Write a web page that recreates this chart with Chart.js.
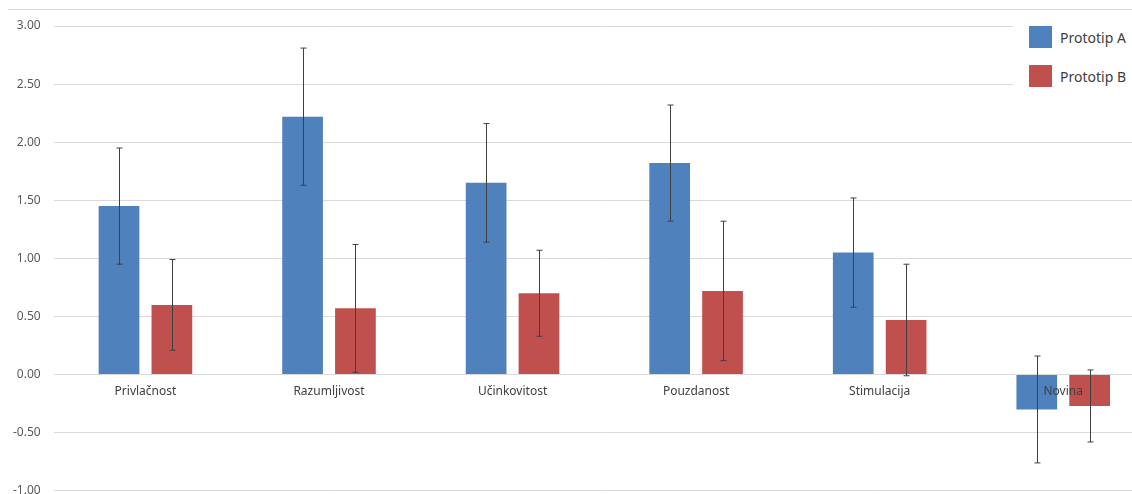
<!DOCTYPE html>
<html>
<head>
<meta charset="utf-8">
<script src="https://cdn.jsdelivr.net/npm/chart.js@4"></script>
<style>
  html, body { margin: 0; padding: 0; background: #fff; overflow: hidden; }
  #wrap { position: relative; width: 1157px; height: 511px; }
  #legend {
    position: absolute; left: 1013px; top: 18px; width: 130px; height: 82px;
    background: #fff; font-family: "Noto Sans", sans-serif; font-size: 14px; color: #404040;
  }
  #legend .item { display: flex; align-items: center; height: 22px; margin: 8px 0 17px 16px; }
  #legend .box { width: 23px; height: 22px; margin-right: 8px; }
</style>
</head>
<body>
<div id="wrap">
  <canvas id="c"></canvas>
  <div id="legend"></div>
</div>
<script>
// kategorije i vrijednosti (srednje vrijednosti + greške)
const categories = ['Privlačnost', 'Razumljivost', 'Učinkovitost', 'Pouzdanost', 'Stimulacija', 'Novina'];
const prototipA = [1.45, 2.22, 1.65, 1.82, 1.05, -0.30];
const prototipB = [0.60, 0.57, 0.70, 0.72, 0.47, -0.27];
const errA = [0.50, 0.59, 0.51, 0.50, 0.47, 0.46];
const errB = [0.39, 0.55, 0.37, 0.60, 0.48, 0.31];
const yTicks = [-1, -0.5, 0, 0.5, 1, 1.5, 2, 2.5, 3];

const colorA = '#4F81BD';
const colorB = '#C0504D';

// error bars, oznake kategorija na nuli, okvir gore
const errorBars = {
  id: 'errorBars',
  afterDatasetsDraw(chart) {
    const ctx = chart.ctx;
    const x = chart.scales.x;
    const y = chart.scales.y;
    const errs = [errA, errB];
    ctx.save();

    ctx.fillStyle = '#404040';
    ctx.font = '12px "Noto Sans"';
    ctx.textAlign = 'center';
    ctx.textBaseline = 'middle';
    const y0 = y.getPixelForValue(0);
    chart.data.labels.forEach((lab, i) => {
      ctx.fillText(lab, x.getPixelForValue(i), y0 + 17);
    });

    ctx.strokeStyle = '#404040';
    ctx.lineWidth = 1;
    chart.data.datasets.forEach((ds, i) => {
      chart.getDatasetMeta(i).data.forEach((bar, j) => {
        const bx = Math.round(bar.x) + 0.5;
        const top = y.getPixelForValue(ds.data[j] + errs[i][j]);
        const bot = y.getPixelForValue(ds.data[j] - errs[i][j]);
        ctx.beginPath();
        ctx.moveTo(bx, top); ctx.lineTo(bx, bot);
        ctx.moveTo(bx - 3, top); ctx.lineTo(bx + 3, top);
        ctx.moveTo(bx - 3, bot); ctx.lineTo(bx + 3, bot);
        ctx.stroke();
      });
    });

    ctx.strokeStyle = '#d9d9d9';
    ctx.beginPath();
    ctx.moveTo(8, 9.5); ctx.lineTo(chart.width, 9.5);
    ctx.stroke();
    ctx.restore();
  }
};

const chart = new Chart(document.getElementById('c'), {
  type: 'bar',
  data: {
    labels: categories,
    datasets: [
      { label: 'Prototip A', data: prototipA, backgroundColor: colorA },
      { label: 'Prototip B', data: prototipB, backgroundColor: colorB }
    ]
  },
  options: {
    responsive: true,
    maintainAspectRatio: false,
    animation: false,
    categoryPercentage: 0.576,
    barPercentage: 0.77,
    layout: { padding: { top: 26, right: 2, bottom: 0, left: 0 } },
    plugins: { legend: { display: false }, tooltip: { enabled: false } },
    scales: {
      x: { display: false },
      y: {
        min: -1, max: 3,
        afterBuildTicks: (s) => { s.ticks = yTicks.map(v => ({ value: v })); },
        grid: { color: '#d9d9d9', drawTicks: false },
        border: { display: false },
        ticks: {
          color: '#595959', font: { family: 'Noto Sans', size: 12 }, padding: 13,
          callback: (v) => Number(v).toFixed(2)
        }
      }
    }
  },
  plugins: [errorBars]
});

// legenda
const legend = document.getElementById('legend');
chart.data.datasets.forEach(ds => {
  const item = document.createElement('div');
  item.className = 'item';
  item.innerHTML = '<span class="box" style="background:' + ds.backgroundColor + '"></span>' + ds.label;
  legend.appendChild(item);
});
</script>
</body>
</html>
